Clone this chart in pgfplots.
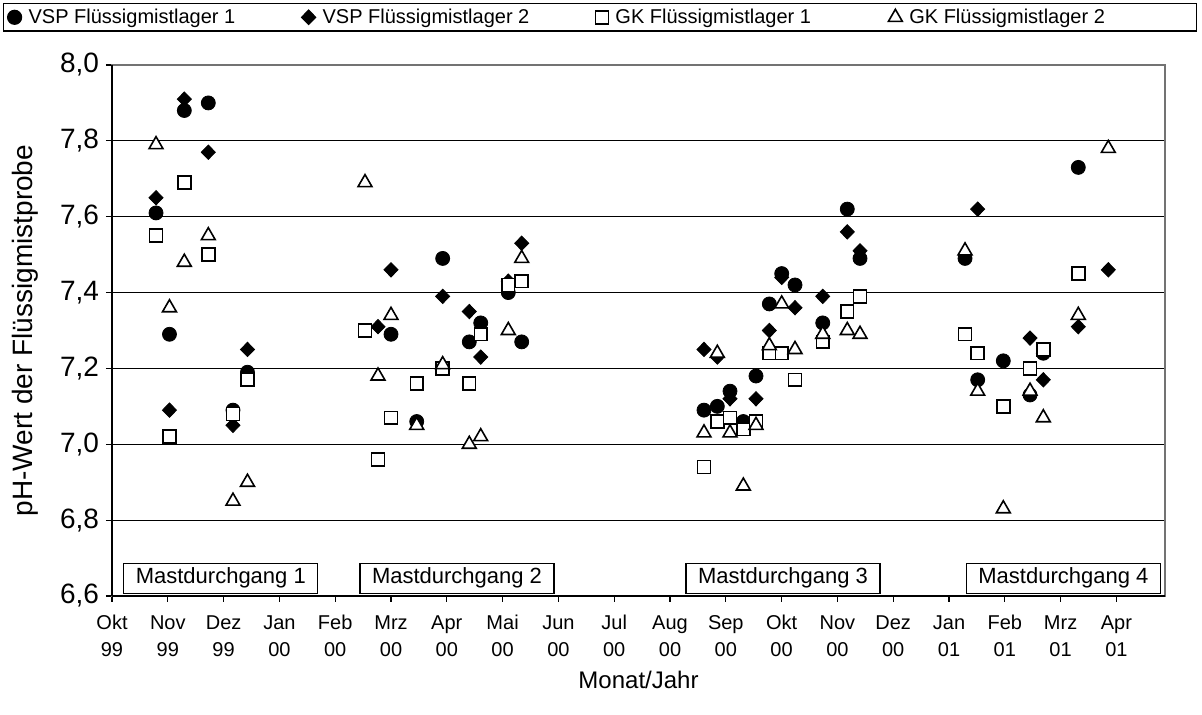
\documentclass[border=0pt]{standalone}
\usepackage{pgfplots}
\pgfplotsset{compat=1.18}
\usepackage{pgfplotstable}
\usepackage{fontspec}
\setmainfont{Liberation Sans}

\pgfplotstableread{
x y
0.789 7.61
1.030 7.29
1.296 7.88
1.726 7.90
2.168 7.09
2.428 7.19
5.000 7.29
5.461 7.06
5.926 7.49
6.403 7.27
6.608 7.32
7.102 7.40
7.342 7.27
10.609 7.09
10.848 7.10
11.075 7.14
11.314 7.06
11.541 7.18
11.780 7.37
12.002 7.45
12.240 7.42
12.737 7.32
13.177 7.62
13.405 7.49
15.287 7.49
15.514 7.17
15.973 7.22
16.452 7.13
16.690 7.24
17.317 7.73
}\vspA

\pgfplotstableread{
x y
0.789 7.65
1.030 7.09
1.296 7.91
1.726 7.77
2.168 7.05
2.428 7.25
4.767 7.31
5.000 7.46
5.926 7.39
6.403 7.35
6.608 7.23
7.102 7.43
7.342 7.53
10.609 7.25
10.848 7.23
11.075 7.12
11.541 7.12
11.780 7.30
12.002 7.44
12.240 7.36
12.737 7.39
13.177 7.56
13.405 7.51
15.514 7.62
16.452 7.28
16.690 7.17
17.317 7.31
17.855 7.46
}\vspB

\pgfplotstableread{
x y
0.789 7.55
1.030 7.02
1.296 7.69
1.726 7.50
2.168 7.08
2.428 7.17
4.534 7.30
4.767 6.96
5.000 7.07
5.461 7.16
5.926 7.20
6.403 7.16
6.608 7.29
7.102 7.42
7.342 7.43
10.609 6.94
10.848 7.06
11.075 7.07
11.314 7.04
11.541 7.06
11.780 7.24
12.002 7.24
12.240 7.17
12.737 7.27
13.177 7.35
13.405 7.39
15.287 7.29
15.514 7.24
15.973 7.10
16.452 7.20
16.690 7.25
17.317 7.45
}\gkA

\pgfplotstableread{
x y
0.789 7.79
1.030 7.36
1.296 7.48
1.726 7.55
2.168 6.85
2.428 6.90
4.534 7.69
4.767 7.18
5.000 7.34
5.461 7.05
5.926 7.21
6.403 7.00
6.608 7.02
7.102 7.30
7.342 7.49
10.609 7.03
10.848 7.24
11.075 7.03
11.314 6.89
11.541 7.05
11.780 7.26
12.002 7.37
12.240 7.25
12.737 7.29
13.177 7.30
13.405 7.29
15.287 7.51
15.514 7.14
15.973 6.83
16.452 7.14
16.690 7.07
17.317 7.34
17.855 7.78
}\gkB

\newcommand{\tl}[2]{\strut #1\\\strut #2}

\begin{document}
\begin{tikzpicture}[x=1pt,y=1pt]
\useasboundingbox (-56,-59.5) rectangle (545,298);
\begin{axis}[
  at={(0,0)}, anchor=south west,
  scale only axis, width=526.5pt, height=265.5pt,
  xmin=0, xmax=18.871, ymin=6.6, ymax=8.0,
  xtick={0,...,18},
  xticklabels={{\tl{Okt}{99}},{\tl{Nov}{99}},{\tl{Dez}{99}},{\tl{Jan}{00}},{\tl{Feb}{00}},{\tl{Mrz}{00}},{\tl{Apr}{00}},{\tl{Mai}{00}},{\tl{Jun}{00}},{\tl{Jul}{00}},{\tl{Aug}{00}},{\tl{Sep}{00}},{\tl{Okt}{00}},{\tl{Nov}{00}},{\tl{Dez}{00}},{\tl{Jan}{01}},{\tl{Feb}{01}},{\tl{Mrz}{01}},{\tl{Apr}{01}}},
  xticklabel style={align=center, font=\fontsize{10}{13.5}\selectfont, yshift=-1pt},
  ytick={6.6,6.8,7.0,7.2,7.4,7.6,7.8,8.0},
  yticklabel style={font=\fontsize{14}{16}\selectfont, /pgf/number format/.cd, fixed, fixed zerofill, precision=1, use comma, assume math mode=true},
  ymajorgrids, grid style={black, line width=0.6pt},
  axis line style={black!55, line width=0.6pt},
  tick align=outside, major tick length=3pt,
  tick style={black, line width=0.6pt},
  xtick pos=bottom, ytick pos=left,
  xlabel={Monat/Jahr}, ylabel={pH-Wert der Flüssigmistprobe},
  xlabel style={font=\fontsize{12}{14}\selectfont, at={(axis description cs:0.5,-0.158)}, anchor=center},
  ylabel style={font=\fontsize{14}{16}\selectfont, at={(axis description cs:-0.0826,0.5)}, anchor=center},
  clip=false,
  legend columns=4,
  legend cell align=left,
  legend image code/.code={\draw[mark repeat=1,mark phase=1,#1] plot coordinates {(0pt,0pt)};},
  legend style={at={(axis description cs:-0.1035,1.1168)}, anchor=north west,
    draw=black, line width=0.6pt, font=\fontsize{10}{12}\selectfont,
    inner xsep=2pt, inner ysep=0.5pt},
]
\addplot[only marks, mark=*, mark size=3.5pt, black, mark options={fill=black}] table {\vspA};
\addlegendentry{\makebox[136pt][l]{\hspace{1.5pt}VSP Flüssigmistlager 1}}
\addplot[only marks, mark=diamond*, mark size=3.6pt, black, mark options={fill=black, xscale=1.3}] table {\vspB};
\addlegendentry{\makebox[136pt][l]{\hspace{1.5pt}VSP Flüssigmistlager 2}}
\addplot[only marks, mark=square*, mark size=3.2pt, black, mark options={fill=white, line width=0.8pt}] table {\gkA};
\addlegendentry{\makebox[136pt][l]{\hspace{1.5pt}GK Flüssigmistlager 1}}
\addplot[only marks, mark=triangle*, mark size=4pt, black, mark options={fill=white, line width=0.8pt}] table {\gkB};
\addlegendentry{\makebox[141pt][l]{\hspace{1.5pt}GK Flüssigmistlager 2}}

\draw[black, line width=0.8pt] (rel axis cs:0,0) -- (rel axis cs:0,1);
\draw[black, line width=0.8pt] (rel axis cs:0,0) -- (rel axis cs:1,0);
\begin{scope}[every node/.style={draw=black, line width=0.6pt, fill=white, inner sep=0pt, minimum width=97pt, minimum height=15pt, font=\fontsize{11}{13}\selectfont}]
\node at (axis cs:1.95,6.647) {Mastdurchgang 1};
\node at (axis cs:6.183,6.647) {Mastdurchgang 2};
\node at (axis cs:12.025,6.647) {Mastdurchgang 3};
\node at (axis cs:17.05,6.647) {Mastdurchgang 4};
\end{scope}
\end{axis}
\end{tikzpicture}
\end{document}
